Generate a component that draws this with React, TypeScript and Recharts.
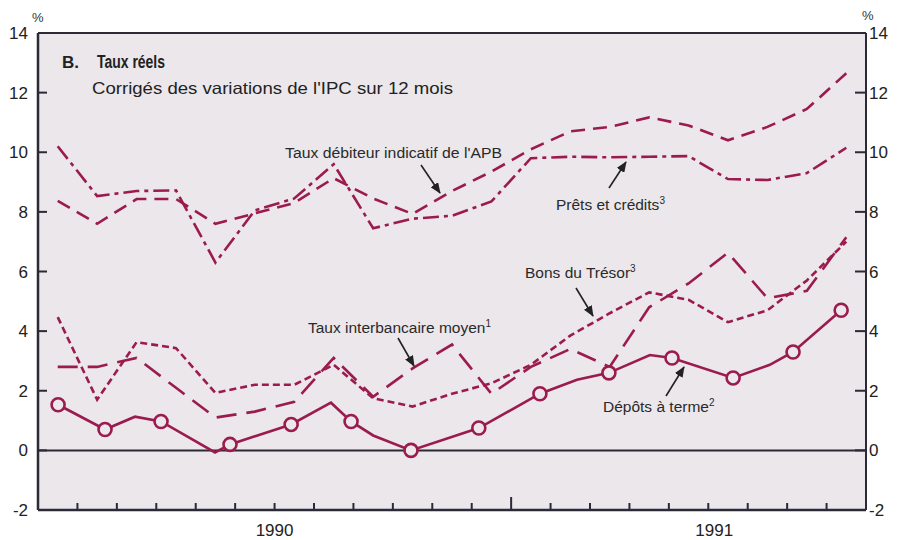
import React from 'react';
import { LineChart, Line, XAxis, YAxis, CartesianGrid, ReferenceLine } from 'recharts';

// mois affichés (un point par mois, centré entre deux graduations)
const months = [
  'janv. 90', 'févr. 90', 'mars 90', 'avr. 90', 'mai 90', 'juin 90', 'juil. 90', 'août 90',
  'sept. 90', 'oct. 90', 'nov. 90', 'déc. 90', 'janv. 91', 'févr. 91', 'mars 91', 'avr. 91',
  'mai 91', 'juin 91', 'juil. 91', 'août 91', 'sept. 91',
];

const tauxDebiteurAPB = [8.37, 7.6, 8.43, 8.43, 7.6, 7.95, 8.3, 9.13, 8.45, 7.93, 8.7, 9.35, 10.1, 10.7, 10.85, 11.17, 10.9, 10.4, 10.85, 11.45, 12.65];
const pretsCredits = [10.2, 8.53, 8.7, 8.72, 6.3, 8.05, 8.45, 9.6, 7.45, 7.77, 7.87, 8.35, 9.8, 9.85, 9.83, 9.85, 9.87, 9.1, 9.07, 9.3, 10.15];
const tauxInterbancaire = [2.8, 2.8, 3.1, 2.1, 1.1, 1.3, 1.63, 3.1, 1.8, 2.75, 3.55, 1.9, 2.8, 3.4, 2.8, 4.8, 5.6, 6.63, 5.1, 5.35, 7.15];
const bonsTresor = [4.47, 1.7, 3.63, 3.43, 1.93, 2.2, 2.2, 2.87, 1.75, 1.47, 1.9, 2.25, 2.87, 3.85, 4.6, 5.3, 5.05, 4.3, 4.7, 5.7, 7.0];

// dépôts à terme : sommets (position en mois), cercles sur certains
const depotsX = [0.51, 1.7, 2.46, 3.12, 4.49, 4.87, 6.42, 7.43, 7.94, 8.5, 9.46, 11.18, 12.73, 13.67, 14.48, 15.52, 16.08, 17.63, 18.56, 19.15, 20.37];
const depotsY = [1.53, 0.7, 1.13, 0.97, -0.07, 0.2, 0.87, 1.6, 0.97, 0.5, 0.0, 0.75, 1.9, 2.37, 2.6, 3.2, 3.1, 2.43, 2.87, 3.3, 4.7];
const depotsCercle = [1, 1, 0, 1, 0, 1, 1, 0, 1, 0, 1, 1, 1, 0, 1, 0, 1, 1, 0, 1, 1];

const yTicks = [-2, 0, 2, 4, 6, 8, 10, 12, 14];
const years = ['1990', '1991'];
const yearPos = [6, 17.15];

const FONT = '"Liberation Sans", Arial, Helvetica, sans-serif';
const LINE = '#9b1b4f';
const AXIS = '#2b2a36';
const PLOT_BG = '#ebe7eb';

const table = months.map((m, i) => ({
  x: i + 0.5,
  mois: m,
  apb: tauxDebiteurAPB[i],
  prets: pretsCredits[i],
  interb: tauxInterbancaire[i],
  bons: bonsTresor[i],
}));

const depots = depotsX.map((x, i) => ({ x, v: depotsY[i], cercle: depotsCercle[i] === 1 }));

const xTicks = [...months.map((_, i) => i), months.length, yearPos[1]];

const XTick = (props: any) => {
  const { x, y, payload } = props;
  const v = payload.value;
  const yi = yearPos.indexOf(v);
  const isMonth = Number.isInteger(v);
  return (
    <g>
      {isMonth && v > 0 && v < months.length && (
        <line x1={x} x2={x} y1={y} y2={y - (v === 12 ? 13 : 7)} stroke={AXIS} strokeWidth={2} />
      )}
      {yi >= 0 && (
        <text x={x} y={y + 26} textAnchor="middle" fontSize={17} fill="#222" fontFamily={FONT}>
          {years[yi]}
        </text>
      )}
    </g>
  );
};

const LeftTick = (props: any) => {
  const { x, y, payload } = props;
  return (
    <g>
      <line x1={x} x2={x + 9} y1={y} y2={y} stroke={AXIS} strokeWidth={2} />
      <text x={x - 10} y={y} dy="0.36em" textAnchor="end" fontSize={17} fill="#222" fontFamily={FONT}>
        {payload.value}
      </text>
    </g>
  );
};

const RightTick = (props: any) => {
  const { x, y, payload } = props;
  return (
    <g>
      <line x1={x - 11} x2={x} y1={y} y2={y} stroke={AXIS} strokeWidth={2} />
      <text x={x + 3} y={y} dy="0.36em" textAnchor="start" fontSize={17} fill="#222" fontFamily={FONT}>
        {payload.value}
      </text>
    </g>
  );
};

const renderCercle = (p: any) => {
  const { cx, cy, payload, index } = p;
  if (!payload.cercle) return <g key={`c${index}`} />;
  return <circle key={`c${index}`} cx={cx} cy={cy} r={6.5} fill={PLOT_BG} stroke={LINE} strokeWidth={2.6} />;
};

function Annotations() {
  const txt = { fontFamily: FONT, fontSize: 15.5, fill: '#2a2a2a' } as const;
  const arrow = { stroke: '#222', strokeWidth: 1.6, markerEnd: 'url(#fleche)' } as const;
  return (
    <svg width={897} height={540} style={{ position: 'absolute', left: 0, top: 0, pointerEvents: 'none' }}>
      <defs>
        <marker id="fleche" markerWidth="11" markerHeight="9" refX="10" refY="4.5" orient="auto" markerUnits="userSpaceOnUse">
          <path d="M0,0 L11,4.5 L0,9 z" fill="#222" />
        </marker>
      </defs>
      <text x={32} y={22} fontFamily={FONT} fontSize={13} fill="#333">%</text>
      <text x={862} y={20} fontFamily={FONT} fontSize={13} fill="#333">%</text>

      <text x={62} y={68} fontFamily={FONT} fontSize={17} fontWeight="bold" fill="#222">B.</text>
      <text x={97} y={68} fontFamily={FONT} fontSize={17.5} fontWeight="bold" fill="#222" textLength={68} lengthAdjust="spacingAndGlyphs">Taux réels</text>
      <text x={92} y={94} fontFamily={FONT} fontSize={16.5} fill="#222" textLength={361} lengthAdjust="spacingAndGlyphs">
        Corrigés des variations de l'IPC sur 12 mois
      </text>

      <text x={285} y={158} {...txt} textLength={217} lengthAdjust="spacingAndGlyphs">Taux débiteur indicatif de l'APB</text>
      <line x1={421} y1={165} x2={440} y2={193} {...arrow} />

      <text x={556} y={210} {...txt}>
        Prêts et crédits<tspan fontSize={10} dy={-6}>3</tspan>
      </text>
      <line x1={609} y1={188} x2={626} y2={162} {...arrow} />

      <text x={525} y={278} {...txt}>
        Bons du Trésor<tspan fontSize={10} dy={-6}>3</tspan>
      </text>
      <line x1={576} y1={288} x2={593} y2={316} {...arrow} />

      <text x={308} y={333} {...txt}>
        Taux interbancaire moyen<tspan fontSize={10} dy={-6}>1</tspan>
      </text>
      <line x1={398} y1={338} x2={414} y2={366} {...arrow} />

      <text x={603} y={412} {...txt}>
        Dépôts à terme<tspan fontSize={10} dy={-6}>2</tspan>
      </text>
      <line x1={666} y1={396} x2={684} y2={367} {...arrow} />
    </svg>
  );
}

export default function App() {
  return (
    <div style={{ position: 'absolute', left: 0, top: 0, width: 897, height: 540, background: '#ffffff' }}>
      <LineChart width={897} height={540} data={table} margin={{ top: 33, right: 0, bottom: 0, left: 0 }}>
        <CartesianGrid horizontal={false} vertical={false} fill={PLOT_BG} />
        <XAxis
          type="number"
          dataKey="x"
          domain={[0, months.length]}
          ticks={xTicks}
          interval={0}
          height={30}
          tickSize={0}
          tickMargin={0}
          tickLine={false}
          tick={XTick}
          axisLine={{ stroke: AXIS, strokeWidth: 2.5 }}
          allowDataOverflow
        />
        <YAxis
          yAxisId="g"
          orientation="left"
          type="number"
          domain={[-2, 14]}
          ticks={yTicks}
          interval={0}
          width={38}
          tickSize={0}
          tickMargin={0}
          tickLine={false}
          tick={LeftTick}
          axisLine={{ stroke: AXIS, strokeWidth: 2.5 }}
          allowDataOverflow
        />
        <YAxis
          yAxisId="d"
          orientation="right"
          type="number"
          domain={[-2, 14]}
          ticks={yTicks}
          interval={0}
          width={31}
          tickSize={0}
          tickMargin={0}
          tickLine={false}
          tick={RightTick}
          axisLine={{ stroke: AXIS, strokeWidth: 2 }}
          allowDataOverflow
        />
        <ReferenceLine yAxisId="g" y={14} stroke={AXIS} strokeWidth={2} />
        <ReferenceLine yAxisId="g" y={0} stroke={AXIS} strokeWidth={2} />

        <Line yAxisId="g" type="linear" dataKey="apb" stroke={LINE} strokeWidth={2.6} strokeDasharray="14 8" dot={false} isAnimationActive={false} />
        <Line yAxisId="g" type="linear" dataKey="prets" stroke={LINE} strokeWidth={2.6} strokeDasharray="16 5 4 5" dot={false} isAnimationActive={false} />
        <Line yAxisId="d" type="linear" dataKey="interb" stroke={LINE} strokeWidth={2.6} strokeDasharray="20 10" dot={false} isAnimationActive={false} />
        <Line yAxisId="g" type="linear" dataKey="bons" stroke={LINE} strokeWidth={2.6} strokeDasharray="7 4" dot={false} isAnimationActive={false} />
        <Line yAxisId="g" type="linear" data={depots} dataKey="v" stroke={LINE} strokeWidth={2.6} dot={renderCercle} isAnimationActive={false} />
      </LineChart>
      <Annotations />
    </div>
  );
}
